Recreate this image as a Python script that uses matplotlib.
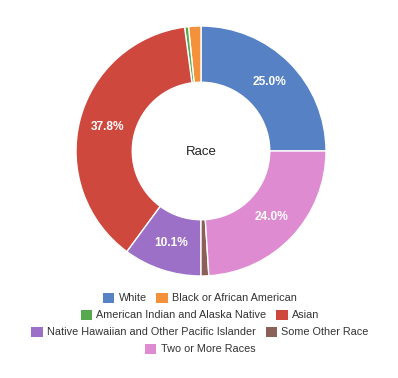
import numpy as np
import matplotlib.pyplot as plt
from matplotlib.patches import Patch

categories = ["White", "Black or African American", "American Indian and Alaska Native",
              "Asian", "Native Hawaiian and Other Pacific Islander", "Some Other Race",
              "Two or More Races"]
shares = [25.0, 1.6, 0.5, 37.8, 10.1, 1.0, 24.0]
colors = ["#5681c4", "#f4923c", "#57a94f", "#cf483e", "#9b70c6", "#8b6058", "#df8bd1"]
legend_rows = [[0, 1], [2, 3], [4, 5], [6]]

plt.rcParams['font.family'] = ['Liberation Sans', 'DejaVu Sans']

W, H = 398, 378
fig = plt.figure(figsize=(W / 100, H / 100), dpi=100, facecolor="white")

# donut: centre (201,151) px, outer radius 125 px
cx, cy, R = 201, 151, 125
ax = fig.add_axes([(cx - R) / W, (H - cy - R) / H, 2 * R / W, 2 * R / H])

# White starts at 12 o'clock going clockwise, the rest follow counterclockwise from there
start = 90 - shares[0] / sum(shares) * 360
wedges, _ = ax.pie(shares, colors=colors, startangle=start, counterclock=True,
                   radius=1.0, wedgeprops=dict(width=0.45, edgecolor="white", linewidth=1.0))
ax.set_xlim(-1, 1)
ax.set_ylim(-1, 1)
ax.set_aspect("equal")

total = sum(shares)
for w, v in zip(wedges, shares):
    if v / total < 0.05:
        continue
    mid = np.deg2rad((w.theta1 + w.theta2) / 2)
    ax.text(0.775 * np.cos(mid), 0.775 * np.sin(mid), f"{v:.1f}%",
            ha="center", va="center", color="white", fontsize=8.6, fontweight="bold")

ax.text(0, -0.01, "Race", ha="center", va="center", fontsize=9.5, color="#222222")

row_y = [298, 315, 332, 349]
for row, y in zip(legend_rows, row_y):
    handles = [Patch(facecolor=colors[i], edgecolor="none") for i in row]
    labels = [categories[i] for i in row]
    fig.legend(handles, labels, loc="center", bbox_to_anchor=(200 / W, 1 - y / H),
               ncol=len(row), frameon=False, fontsize=7.8, handlelength=1.05, handleheight=1.05,
               handletextpad=0.4, columnspacing=0.9, borderpad=0, labelcolor="#333333")

fig.savefig("out.png", dpi=100, facecolor="white")
